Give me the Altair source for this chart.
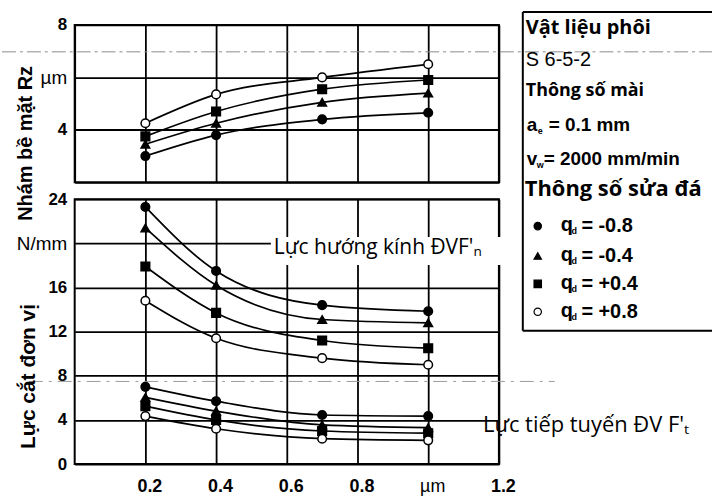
import altair as alt
import pandas as pd

# ---- data ----
feed = [0.2, 0.4, 0.7, 1.0]
qd_labels = ["-0.8", "-0.4", "+0.4", "+0.8"]

rz_m08 = [3.0, 3.8, 4.4, 4.65]
rz_m04 = [3.45, 4.25, 5.05, 5.4]
rz_p04 = [3.75, 4.7, 5.55, 5.9]
rz_p08 = [4.25, 5.35, 6.0, 6.5]

fn_m08 = [23.3, 17.5, 14.4, 13.85]
fn_m04 = [21.4, 16.2, 13.1, 12.8]
fn_p04 = [17.9, 13.7, 11.2, 10.5]
fn_p08 = [14.8, 11.4, 9.6, 9.0]

ft_m08 = [7.0, 5.7, 4.45, 4.35]
ft_m04 = [6.05, 4.8, 3.55, 3.3]
ft_p04 = [5.25, 4.0, 3.0, 2.8]
ft_p08 = [4.35, 3.2, 2.3, 2.15]

x_ticks = [0.2, 0.4, 0.6, 0.8, 1.0, 1.2]
x_grid = [0.0, 0.2, 0.4, 0.6, 0.8, 1.0, 1.2]
rz_ticks = [2, 4, 6, 8]
f_ticks = [0, 4, 8, 12, 16, 20, 24]


def long(series, kind):
    rows = []
    for q, vals in zip(qd_labels, series):
        for x, v in zip(feed, vals):
            rows.append({"x": x, "v": v, "q": q, "kind": kind})
    return rows


rz_df = pd.DataFrame(long([rz_m08, rz_m04, rz_p04, rz_p08], "rz"))
f_df = pd.DataFrame(long([fn_m08, fn_m04, fn_p04, fn_p08], "fn")
                    + long([ft_m08, ft_m04, ft_p04, ft_p08], "ft"))
f_df["grp"] = f_df["kind"] + f_df["q"]

one = pd.DataFrame({"a": [0]})

TICK_FONT = "Liberation Sans"
ANN_FONT = "Open Sans"

shape_scale = alt.Scale(domain=qd_labels,
                        range=["circle", "triangle-up", "square", "circle"])
fill_scale = alt.Scale(domain=qd_labels,
                       range=["black", "black", "black", "white"])

W = 426


def txt(s, x, y, size=17, weight="normal", font=ANN_FONT, align="left",
        angle=0, baseline="middle"):
    return alt.Chart(one).mark_text(
        text=s, font=font, fontSize=size, fontWeight=weight, align=align,
        baseline=baseline, angle=angle, color="black"
    ).encode(x=alt.value(x), y=alt.value(y))


def rule(x1, x2, y1, y2, width=2, color="black", dash=None):
    kw = dict(color=color, strokeWidth=width)
    if dash:
        kw["strokeDash"] = dash
    return alt.Chart(one).mark_rule(**kw).encode(
        x=alt.value(x1), x2=alt.value(x2), y=alt.value(y1), y2=alt.value(y2))


def panel(df, domain, yticks, unit_value, unit_text, show_x_labels,
          detail_field):
    xaxis = alt.Axis(values=x_grid if not show_x_labels else x_ticks,
                     labels=show_x_labels, ticks=False, domain=False,
                     grid=True, gridColor="black", gridWidth=1.8,
                     gridOpacity=1, title=None, labelFlush=False,
                     labelOffset=4,
                     labelExpr="datum.value > 0.95 && datum.value < 1.05 ? 'µm' : datum.label",
                     labelFont=TICK_FONT,
                     labelFontWeight={"condition": {"test": "datum.value > 0.95 && datum.value < 1.05",
                                                    "value": "normal"},
                                      "value": "bold"},
                     labelFontSize=18, labelPadding=14, labelColor="black")
    yaxis = alt.Axis(values=yticks, ticks=False, domain=False, grid=True,
                     gridColor="black", gridWidth=1.8, gridOpacity=1,
                     title=None, labelFlush=False,
                     labelExpr=(f"datum.value == {unit_value} ? '{unit_text}' : "
                                f"(datum.value == 2 ? '' : datum.label)"),
                     labelFont=TICK_FONT,
                     labelFontWeight={"condition": {"test": f"datum.value == {unit_value}",
                                                    "value": "normal"},
                                      "value": "bold"},
                     labelFontSize={"condition": {"test": f"datum.value == {unit_value}",
                                                  "value": 19},
                                    "value": 17},
                     labelPadding=8, labelColor="black")
    x = alt.X("x:Q", scale=alt.Scale(domain=[0, 1.2], nice=False), axis=xaxis)
    y = alt.Y("v:Q", scale=alt.Scale(domain=domain, nice=False, zero=False),
              axis=yaxis)
    base = alt.Chart(df)
    lines = base.mark_line(interpolate="monotone", color="black",
                           strokeWidth=1.7).encode(x=x, y=y, detail=detail_field)
    pts = base.mark_point(filled=True, stroke="black", strokeWidth=1.5,
                          size=75, opacity=1).encode(
        x=x, y=y,
        shape=alt.Shape("q:N", scale=shape_scale, legend=None),
        fill=alt.Fill("q:N", scale=fill_scale, legend=None))
    return lines, pts


# ---- top panel ----
t_lines, t_pts = panel(rz_df, [2, 8], rz_ticks, 6, "µm", False, "q:N")

artifact_top = rule(-73, 640, 27, 27, 1, "#8a8a8a", [14, 4, 3, 4])

legend_layers = [
    alt.Chart(one).mark_rect(fill="white").encode(
        x=alt.value(450), x2=alt.value(640), y=alt.value(-13), y2=alt.value(307)),
    artifact_top,
    rule(450, 640, -13, -13),
    rule(450, 640, 307, 307),
    rule(450, 450, -13, 307),
    txt("Vật liệu phôi", 453, 3, 20, "bold"),
    txt("S 6-5-2", 453, 35, 20, "normal", TICK_FONT),
    txt("Thông số mài", 453, 66, 18, "bold"),
    txt("a", 454, 101, 19, "bold", TICK_FONT),
    txt("e", 465, 107, 9, "bold", TICK_FONT),
    txt("= 0.1 mm", 476, 101, 19, "bold", TICK_FONT),
    txt("v", 454, 135, 19, "bold", TICK_FONT),
    txt("w", 464, 141, 9, "bold", TICK_FONT),
    txt("= 2000 mm/min", 471, 135, 19, "bold", TICK_FONT),
    txt("Thông số sửa đá", 452, 165, 22, "bold"),
]
leg_shapes = ["circle", "triangle-up", "square", "circle"]
leg_fill = ["black", "black", "black", "white"]
leg_y = [202, 232, 260, 288]
for q, shp, fl, yy in zip(qd_labels, leg_shapes, leg_fill, leg_y):
    legend_layers.append(
        alt.Chart(one).mark_point(shape=shp, fill=fl, stroke="black",
                                  strokeWidth=1.2, size=55, opacity=1)
        .encode(x=alt.value(465), y=alt.value(yy)))
    legend_layers.append(txt("q", 488, yy - 1, 20, "bold", TICK_FONT))
    legend_layers.append(txt("d", 499, yy + 5, 9, "bold", TICK_FONT))
    legend_layers.append(txt("=", 509, yy, 20, "bold", TICK_FONT))
    legend_layers.append(txt(q, 526, yy, 20, "bold", TICK_FONT))

top_title = txt("Nhám bề mặt Rz", -49, 119, 20, "bold", TICK_FONT,
                align="center", angle=270)

top = alt.layer(t_lines, t_pts, top_title,
                *legend_layers).properties(width=W, height=158)

# ---- bottom panel ----
b_lines, b_pts = panel(f_df, [0, 24], f_ticks, 20, "N/mm", True, "grp:N")

mask = alt.Chart(one).mark_rect(fill="white").encode(
    x=alt.value(197), x2=alt.value(429), y=alt.value(38), y2=alt.value(66))
rad_txt = txt("Lực hướng kính ĐVF'ₙ", 200, 49, 21)
tan_txt = txt("Lực tiếp tuyến ĐV  F'ₜ", 410, 227, 22)
artifact_bot = rule(-46, 482, 183, 183, 1, "#9a9a9a", [14, 6, 3, 6])
bot_title = txt("Lực cắt đơn vị", -46, 178, 21, "bold", TICK_FONT,
                align="center", angle=270)

bottom = alt.layer(artifact_bot, mask, b_lines, b_pts, rad_txt, tan_txt,
                   bot_title).properties(width=W, height=266)

chart = alt.vconcat(top, bottom, spacing=17, bounds="flush").properties(
    padding={"left": 0, "top": 9, "right": 0, "bottom": 0},
    background="white",
).configure_view(stroke="black", strokeWidth=2)

chart.save("out.html", embed_options={"renderer": "svg", "actions": False})
